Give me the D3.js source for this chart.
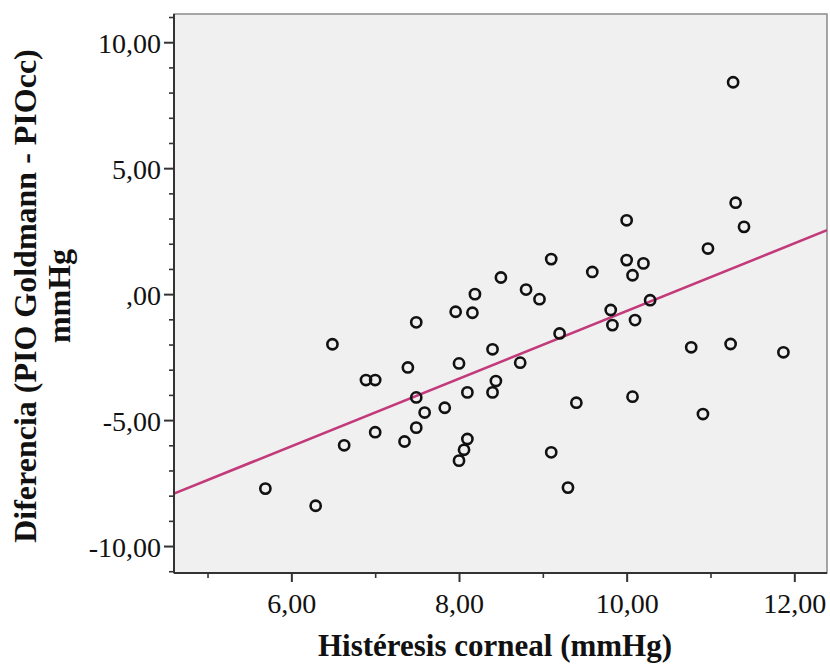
<!DOCTYPE html>
<html>
<head>
<meta charset="utf-8">
<script src="https://cdn.jsdelivr.net/npm/d3@7/dist/d3.min.js"></script>
<style>
  html, body { margin: 0; padding: 0; background: #ffffff; }
  svg { display: block; }
  .tick text { font-family: "Liberation Serif", "Times New Roman", serif; }
</style>
</head>
<body>
<svg id="chart" width="830" height="665"></svg>
<script>
// Corneal hysteresis (mmHg) per eye
const histeresis = [
  11.27, 11.30, 11.40, 10.00, 10.97, 9.10, 8.50, 10.00, 10.20, 10.07,
  9.59, 8.80, 8.96, 10.28, 8.19, 7.96, 8.16, 7.49, 6.49, 8.40,
  8.00, 7.39, 6.89, 7.00, 8.44, 8.10, 8.40, 7.49, 7.83, 7.59,
  7.49, 7.00, 7.35, 8.10, 6.63, 8.06, 8.00, 5.69, 6.29, 9.81,
  10.10, 9.83, 9.20, 8.73, 10.77, 11.24, 11.87, 10.07, 9.40, 10.91,
  9.10, 9.30
];
// Difference Goldmann IOP - IOPcc (mmHg)
const diferencia = [
  8.41, 3.63, 2.67, 2.93, 1.81, 1.39, 0.66, 1.35, 1.22, 0.75,
  0.88, 0.18, -0.20, -0.24, 0.00, -0.70, -0.74, -1.12, -1.99, -2.19,
  -2.75, -2.91, -3.41, -3.41, -3.45, -3.90, -3.90, -4.10, -4.51, -4.70,
  -5.30, -5.48, -5.85, -5.75, -6.00, -6.18, -6.61, -7.72, -8.40, -0.63,
  -1.03, -1.23, -1.56, -2.72, -2.11, -1.98, -2.31, -4.07, -4.31, -4.76,
  -6.28, -7.68
];
// Linear fit: diferencia = intercept + slope * histeresis
const fitIntercept = -14.09;
const fitSlope = 1.342;

const xTicks = [6, 8, 10, 12];
const xMinorTicks = [5, 7, 9, 11];
const yTicks = [10, 5, 0, -5, -10];
const yMinorTicks = [-11, -9, -8, -7, -6, -4, -3, -2, -1, 1, 2, 3, 4, 6, 7, 8, 9, 11];

const fmt = v => {
  const s = Math.abs(v).toFixed(2).replace(".", ",");
  const body = s.startsWith("0") ? s.slice(1) : s;
  return (v < 0 ? "-" : "") + body;
};

const svg = d3.select("#chart");
const plotL = 174, plotR = 827, plotT = 14, plotB = 573;
const serif = "Liberation Serif, Times New Roman, serif";

const x = d3.scaleLinear().domain([4.60, 12.39]).range([plotL, plotR]);
const y = d3.scaleLinear().domain([-11.07, 11.12]).range([plotB, plotT]);

// plot area
svg.append("rect")
  .attr("x", plotL).attr("y", plotT)
  .attr("width", plotR - plotL).attr("height", plotB - plotT)
  .attr("fill", "#f0f0f0")
  .attr("stroke", "#8a8a8a").attr("stroke-width", 1.5);

// regression line
const defs = svg.append("defs");
defs.append("clipPath").attr("id", "plotClip")
  .append("rect").attr("x", plotL).attr("y", plotT)
  .attr("width", plotR - plotL).attr("height", plotB - plotT);

const xd = x.domain();
svg.append("line")
  .attr("clip-path", "url(#plotClip)")
  .attr("x1", x(xd[0])).attr("y1", y(fitIntercept + fitSlope * xd[0]))
  .attr("x2", x(xd[1])).attr("y2", y(fitIntercept + fitSlope * xd[1]))
  .attr("stroke", "#c23a7a").attr("stroke-width", 2.6);

// points
svg.append("g").selectAll("circle")
  .data(d3.range(histeresis.length))
  .join("circle")
  .attr("cx", i => x(histeresis[i]))
  .attr("cy", i => y(diferencia[i]))
  .attr("r", 5.1)
  .attr("fill", "none")
  .attr("stroke", "#111")
  .attr("stroke-width", 2.6);

// y axis
const yAxis = svg.append("g").attr("transform", `translate(${plotL},0)`)
  .call(d3.axisLeft(y).tickValues(yTicks).tickFormat(fmt).tickSize(10).tickPadding(3));
yAxis.select(".domain").attr("stroke", "#333").attr("stroke-width", 2).attr("d", `M0,${plotT}V${plotB}`);
yAxis.selectAll(".tick line").attr("stroke", "#333").attr("stroke-width", 2);
yAxis.selectAll(".tick text").attr("font-size", 28).attr("fill", "#111").attr("dy", "0.36em");
svg.append("g").attr("transform", `translate(${plotL},0)`)
  .call(d3.axisLeft(y).tickValues(yMinorTicks).tickFormat("").tickSize(5))
  .call(g => g.select(".domain").remove())
  .call(g => g.selectAll(".tick line").attr("stroke", "#333").attr("stroke-width", 1.6));

// x axis
const xAxis = svg.append("g").attr("transform", `translate(0,${plotB})`)
  .call(d3.axisBottom(x).tickValues(xTicks).tickFormat(fmt).tickSize(9).tickPadding(11));
xAxis.select(".domain").attr("stroke", "#333").attr("stroke-width", 2).attr("d", `M${plotL},0H${plotR}`);
xAxis.selectAll(".tick line").attr("stroke", "#333").attr("stroke-width", 2);
xAxis.selectAll(".tick text").attr("font-size", 28).attr("fill", "#111");
svg.append("g").attr("transform", `translate(0,${plotB})`)
  .call(d3.axisBottom(x).tickValues(xMinorTicks).tickFormat("").tickSize(5))
  .call(g => g.select(".domain").remove())
  .call(g => g.selectAll(".tick line").attr("stroke", "#333").attr("stroke-width", 1.6));

// axis titles
svg.append("text")
  .attr("x", 495).attr("y", 656)
  .attr("text-anchor", "middle")
  .attr("font-family", serif)
  .attr("font-weight", "bold").attr("font-size", 32).attr("fill", "#111")
  .attr("textLength", 354).attr("lengthAdjust", "spacingAndGlyphs")
  .text("Histéresis corneal (mmHg)");

const yTitle = svg.append("text")
  .attr("transform", "translate(36,296) rotate(-90)")
  .attr("text-anchor", "middle")
  .attr("font-family", serif)
  .attr("font-weight", "bold").attr("font-size", 32).attr("fill", "#111");
yTitle.append("tspan").attr("x", 0).attr("y", 0).text("Diferencia (PIO Goldmann - PIOcc)");
yTitle.append("tspan").attr("x", 0).attr("y", 34).text("mmHg");
</script>
</body>
</html>
